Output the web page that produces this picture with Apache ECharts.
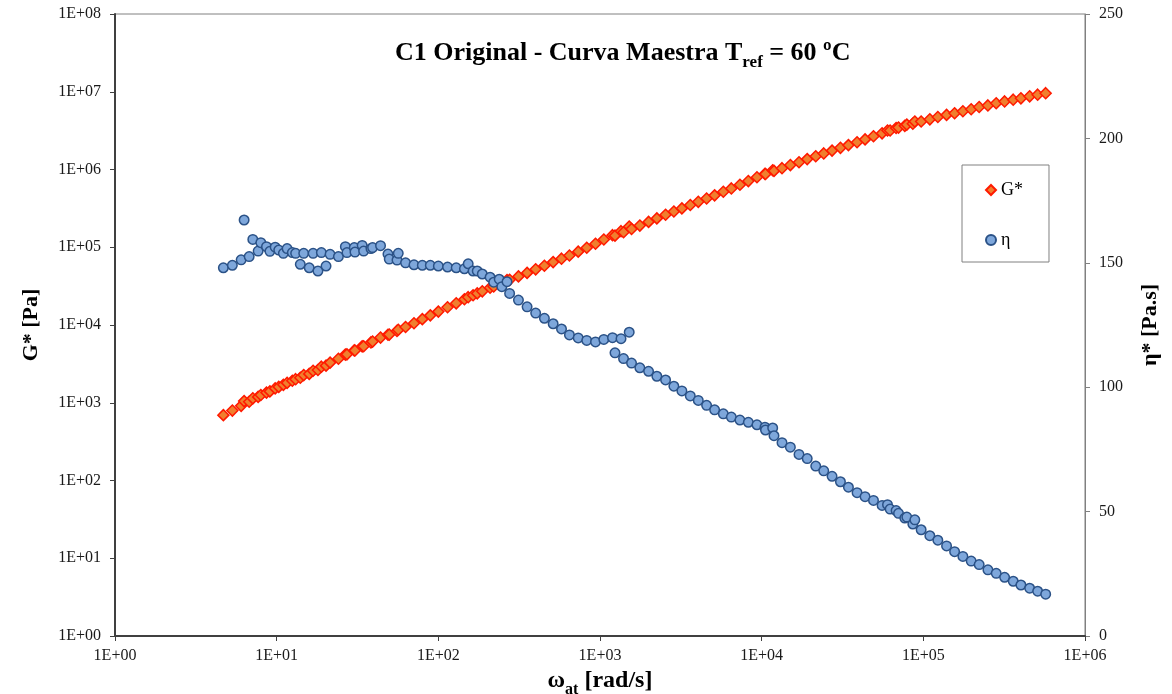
<!DOCTYPE html>
<html>
<head>
<meta charset="utf-8">
<script src="https://cdn.jsdelivr.net/npm/echarts@6/dist/echarts.min.js"></script>
<style>
html,body{margin:0;padding:0;background:#fff;overflow:hidden;}
#chart{width:1172px;height:694px;}
</style>
</head>
<body>
<div id="chart"></div>
<script>
// Angular frequency (rad/s)
const omega = [
  4.68, 5.32, 6.03, 6.29, 6.76, 7.12, 7.68, 7.98, 8.65, 9.08,
  9.79, 10.3, 11.0, 11.6, 12.5, 13.1, 14.0, 14.7, 15.9, 16.8,
  18.0, 18.9, 20.2, 21.4, 24.1, 26.6, 27.2, 30.2, 30.5, 33.8,
  34.5, 38.3, 39.2, 43.9, 48.8, 49.7, 55.5, 56.5, 62.7, 70.7,
  79.6, 89.2, 100, 114, 129, 145, 153, 164, 174, 187,
  209, 220, 238, 247, 266, 276, 313, 354, 400, 453,
  513, 578, 647, 733, 828, 938, 1056, 1195, 1238, 1349,
  1398, 1516, 1567, 1764, 1997, 2247, 2545, 2864, 3210, 3618,
  4055, 4564, 5117, 5791, 6493, 7338, 8271, 9352, 10480, 10560,
  11700, 11920, 13360, 15050, 17020, 19130, 21600, 24210, 27250, 30710,
  34410, 38910, 43610, 49170, 55570, 60030, 62300, 67860, 70210, 76800,
  79030, 86100, 88600, 96920, 109700, 122950, 139200, 156100, 175650, 197700,
  221500, 250850, 282350, 318250, 359700, 401500, 454600, 509450, 571100
];
// Complex modulus G* (Pa)
const gStar = [
  693, 793, 912, 1050, 1030, 1140, 1190, 1260, 1350, 1400,
  1530, 1600, 1700, 1800, 1920, 2010, 2100, 2270, 2350, 2580,
  2640, 2910, 3000, 3280, 3680, 4160, 4190, 4710, 4710, 5310,
  5330, 5970, 6120, 6890, 7490, 7530, 8390, 8700, 9410, 10550,
  11900, 13300, 14870, 16900, 19000, 21400, 22800, 24100, 25500, 27100,
  30100, 31300, 34100, 34600, 37900, 38100, 42200, 46800, 52000, 57900,
  64400, 71300, 78300, 87800, 98400, 111000, 126000, 143000, 141000, 161000,
  156000, 185000, 172000, 190000, 212000, 235000, 262000, 288000, 316000, 349000,
  384000, 423000, 465000, 517000, 571000, 637000, 710000, 794000, 879000, 874000,
  978000, 960000, 1040000, 1140000, 1240000, 1360000, 1480000, 1610000, 1750000, 1900000,
  2060000, 2240000, 2440000, 2680000, 2920000, 3170000, 3180000, 3420000, 3460000, 3640000,
  3780000, 3870000, 4140000, 4140000, 4420000, 4730000, 5040000, 5290000, 5620000, 5950000,
  6360000, 6670000, 7120000, 7510000, 7910000, 8230000, 8730000, 9170000, 9590000
];
// Complex viscosity eta* (Pa.s)
const eta = [
  148.0, 149.0, 151.2, 167.2, 152.5, 159.4, 154.7, 158.1, 156.5, 154.6,
  156.3, 155.1, 153.8, 155.7, 154.1, 153.8, 149.4, 153.8, 148.0, 153.8,
  146.7, 154.1, 148.7, 153.4, 152.5, 156.5, 154.1, 156.1, 154.3, 157.0,
  154.7, 155.7, 156.1, 156.9, 153.5, 151.5, 151.1, 153.8, 150.0, 149.2,
  149.0, 149.0, 148.7, 148.3, 148.0, 147.6, 149.6, 146.7, 146.7, 145.5,
  144.2, 142.2, 143.4, 140.4, 142.4, 137.7, 135.0, 132.3, 129.8, 127.7,
  125.5, 123.4, 121.0, 119.8, 118.8, 118.2, 119.2, 119.9, 113.8, 119.5,
  111.5, 122.1, 109.7, 107.8, 106.4, 104.4, 102.9, 100.4, 98.5, 96.5,
  94.7, 92.7, 90.9, 89.3, 88.0, 86.8, 85.9, 84.9, 83.9, 82.8,
  83.6, 80.5, 77.7, 75.9, 73.0, 71.3, 68.3, 66.4, 64.2, 62.0,
  59.8, 57.6, 56.0, 54.5, 52.5, 52.8, 51.0, 50.4, 49.3, 47.4,
  47.8, 45.0, 46.7, 42.7, 40.3, 38.5, 36.2, 33.9, 32.0, 30.1,
  28.7, 26.6, 25.2, 23.6, 22.0, 20.5, 19.2, 18.0, 16.8
];
const xTickLabels = ['1E+00','1E+01','1E+02','1E+03','1E+04','1E+05','1E+06'];
const gTickLabels = ['1E+00','1E+01','1E+02','1E+03','1E+04','1E+05','1E+06','1E+07','1E+08'];
const etaTicks = [0, 50, 100, 150, 200, 250];
const seriesNames = ['G*', 'η'];

const serif = 'Liberation Serif, Times New Roman, serif';
const gData = omega.map((w, i) => [w, gStar[i]]);
const etaData = omega.map((w, i) => [w, eta[i]]);
const logLabel = arr => v => arr[Math.round(Math.log10(v))] || '';

const chart = echarts.init(document.getElementById('chart'), null, {renderer: 'canvas', width: 1172, height: 694});
chart.setOption({
  animation: false,
  backgroundColor: '#fff',
  title: {
    text: '{a|C1 Original - Curva Maestra T}{s|ref}{a| = 60 ºC}',
    left: 390, top: 35,
    textStyle: {
      rich: {
        a: {fontFamily: serif, fontSize: 26, fontWeight: 'bold', color: '#000', lineHeight: 30, verticalAlign: 'top'},
        s: {fontFamily: serif, fontSize: 17, fontWeight: 'bold', color: '#000', lineHeight: 18, verticalAlign: 'top', padding: [14, 0, 0, 0]}
      }
    }
  },
  legend: {
    orient: 'vertical', left: 962, top: 165,
    padding: [16, 26, 13, 23], itemGap: 32, itemWidth: 10, itemHeight: 10,
    backgroundColor: '#fff', borderColor: '#808080', borderWidth: 1,
    textStyle: {fontFamily: serif, fontSize: 18, color: '#000'},
    data: seriesNames
  },
  grid: {
    left: 115, right: 87, top: 14, bottom: 58,
    show: true, borderColor: '#808080', borderWidth: 1,
    containLabel: false, outerBoundsMode: 'none'
  },
  xAxis: {
    type: 'log', logBase: 10, min: 1, max: 1e6, splitNumber: 6,
    axisLine: {show: true, lineStyle: {color: '#404040', width: 2}},
    axisTick: {show: true, inside: false, length: 5, lineStyle: {color: '#404040'}},
    axisLabel: {formatter: logLabel(xTickLabels), fontFamily: serif, fontSize: 16, color: '#1a1a1a', margin: 12},
    splitLine: {show: false},
    name: '{a|ω}{s|at}{a| [rad/s]}',
    nameLocation: 'middle', nameGap: 30,
    nameTextStyle: {
      rich: {
        a: {fontFamily: serif, fontSize: 24, fontWeight: 'bold', color: '#000', lineHeight: 28, verticalAlign: 'top'},
        s: {fontFamily: serif, fontSize: 16, fontWeight: 'bold', color: '#000', lineHeight: 17, verticalAlign: 'top', padding: [13, 0, 0, 0]}
      }
    }
  },
  yAxis: [
    {
      type: 'log', logBase: 10, min: 1, max: 1e8, splitNumber: 8, position: 'left',
      axisLine: {show: true, lineStyle: {color: '#404040', width: 2}},
      axisTick: {show: true, inside: false, length: 5, lineStyle: {color: '#404040'}},
      axisLabel: {formatter: logLabel(gTickLabels), fontFamily: serif, fontSize: 16, color: '#1a1a1a', margin: 14},
      splitLine: {show: false},
      name: 'G* [Pa]', nameLocation: 'middle', nameGap: 73,
      nameTextStyle: {fontFamily: serif, fontSize: 22, fontWeight: 'bold', color: '#000'}
    },
    {
      type: 'value', min: etaTicks[0], max: etaTicks[etaTicks.length - 1], interval: 50, position: 'right',
      axisLine: {show: true, lineStyle: {color: '#808080', width: 1}},
      axisTick: {show: true, inside: false, length: 5, lineStyle: {color: '#808080'}},
      axisLabel: {fontFamily: serif, fontSize: 16, color: '#1a1a1a', margin: 14},
      splitLine: {show: false},
      name: 'η* [Pa.s]', nameLocation: 'middle', nameGap: 54,
      nameTextStyle: {fontFamily: serif, fontSize: 22, fontWeight: 'bold', color: '#000'}
    }
  ],
  series: [
    {
      name: seriesNames[0], type: 'scatter', yAxisIndex: 0, symbol: 'diamond', symbolSize: 11,
      itemStyle: {color: '#F07F2E', borderColor: '#FF1A00', borderWidth: 1.5, opacity: 1},
      data: gData
    },
    {
      name: seriesNames[1], type: 'scatter', yAxisIndex: 1, symbol: 'circle', symbolSize: 9.5,
      itemStyle: {color: '#7EA7DB', borderColor: '#2B5287', borderWidth: 1.5, opacity: 1},
      data: etaData
    }
  ]
});
</script>
</body>
</html>
